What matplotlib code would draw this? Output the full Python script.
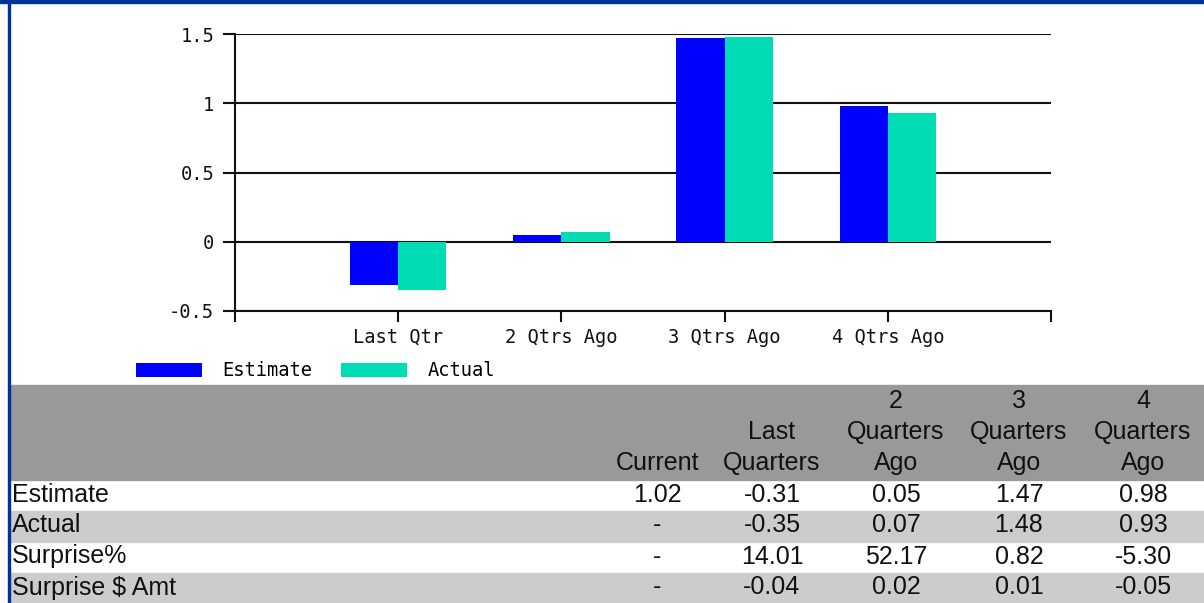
import numpy as np
import matplotlib
matplotlib.use("Agg")
from matplotlib import pyplot as plt
from matplotlib.patches import Rectangle

# chart data
categories = ["Last Qtr", "2 Qtrs Ago", "3 Qtrs Ago", "4 Qtrs Ago"]
estimate = [-0.31, 0.05, 1.47, 0.98]
actual = [-0.35, 0.07, 1.48, 0.93]

# table data
col_headers = [["Current"], ["Last", "Quarters"], ["2", "Quarters", "Ago"],
               ["3", "Quarters", "Ago"], ["4", "Quarters", "Ago"]]
row_labels = ["Estimate", "Actual", "Surprise%", "Surprise $ Amt"]
row_estimate = ["1.02", "-0.31", "0.05", "1.47", "0.98"]
row_actual = ["-", "-0.35", "0.07", "1.48", "0.93"]
row_surprise_pct = ["-", "14.01", "52.17", "0.82", "-5.30"]
row_surprise_amt = ["-", "-0.04", "0.02", "0.01", "-0.05"]
table_rows = [row_estimate, row_actual, row_surprise_pct, row_surprise_amt]

W, H = 1204, 603
fig = plt.figure(figsize=(W / 100, H / 100), dpi=100)

def fx(px):
    return px / W

def fy(py):
    return 1 - py / H

blue_edge = "#003399"
est_col = "#0000FF"
act_col = "#00DDB5"
axis_font = "DejaVu Sans Mono"

# chart axes
ax = fig.add_axes([fx(235), fy(311), fx(1051) - fx(235), fy(34) - fy(311)])
x = np.arange(1, len(categories) + 1)
bw = 0.295
b1 = ax.bar(x - bw / 2, estimate, bw, color=est_col, label="Estimate", zorder=3)
b2 = ax.bar(x + bw / 2, actual, bw, color=act_col, label="Actual", zorder=3)
ax.set_xlim(0, len(categories) + 1)
ax.set_ylim(-0.5, 1.5)
yt = [-0.5, 0, 0.5, 1, 1.5]
ax.set_yticks(yt)
ax.set_yticklabels(["-0.5", "0", "0.5", "1", "1.5"])
for v in yt:
    ax.axhline(v, color="#111111", lw=1.5, zorder=1)
ax.set_xticks(np.arange(0, len(categories) + 2))
ax.set_xticklabels([""] + categories + [""])
for s in ["top", "right"]:
    ax.spines[s].set_visible(False)
ax.spines["left"].set_linewidth(1.5)
ax.spines["bottom"].set_linewidth(1.5)
ax.spines["left"].set_color("#111111")
ax.spines["bottom"].set_color("#111111")
ax.tick_params(axis="y", length=9, width=1.5, pad=6, colors="#111111")
ax.tick_params(axis="x", length=8, width=1.5, pad=4, colors="#111111")
for lab in ax.get_xticklabels() + ax.get_yticklabels():
    lab.set_fontfamily(axis_font)
    lab.set_fontsize(13.5)
    lab.set_color("#111111")

ax.legend(handles=[b1, b2], loc="center left", bbox_to_anchor=(fx(136), fy(371)),
          bbox_transform=fig.transFigure, ncol=2, frameon=False, borderpad=0,
          borderaxespad=0, handlelength=3.5, handleheight=0.85, handletextpad=1.1,
          columnspacing=1.55, prop={"family": axis_font, "size": 13.5})

# blue frame edges
fig.patches.append(Rectangle((0, fy(3)), 1, fy(0) - fy(3), transform=fig.transFigure,
                             color=blue_edge, zorder=5))
fig.patches.append(Rectangle((fx(8), 0), fx(2), 1, transform=fig.transFigure,
                             color=blue_edge, zorder=5))

# table
tfont = "Liberation Sans"
tsize = 18
col_x = [657, 772, 896, 1019, 1143]
row_h = 31
head_top, head_bot = 385, 480
fig.patches.append(Rectangle((fx(10), fy(head_bot)), 1 - fx(10), fy(head_top) - fy(head_bot),
                             transform=fig.transFigure, color="#999999", zorder=1))
for i, lines in enumerate(col_headers):
    for j, line in enumerate(reversed(lines)):
        fig.text(fx(col_x[i]), fy(463 - j * row_h), line, ha="center", va="center",
                 family=tfont, size=tsize, color="#111111")

for r, (lab, vals) in enumerate(zip(row_labels, table_rows)):
    top = head_bot + r * row_h
    if r % 2 == 1:
        fig.patches.append(Rectangle((fx(10), fy(top + row_h)), 1 - fx(10), row_h / H,
                                     transform=fig.transFigure, color="#CCCCCC", zorder=1))
    yc = top + row_h / 2 - 1
    fig.text(fx(12), fy(yc), lab, ha="left", va="center", family=tfont, size=tsize,
             color="#111111")
    for i, v in enumerate(vals):
        fig.text(fx(col_x[i]), fy(yc), v, ha="center", va="center", family=tfont,
                 size=tsize, color="#111111")

fig.savefig("out.png", dpi=100)
